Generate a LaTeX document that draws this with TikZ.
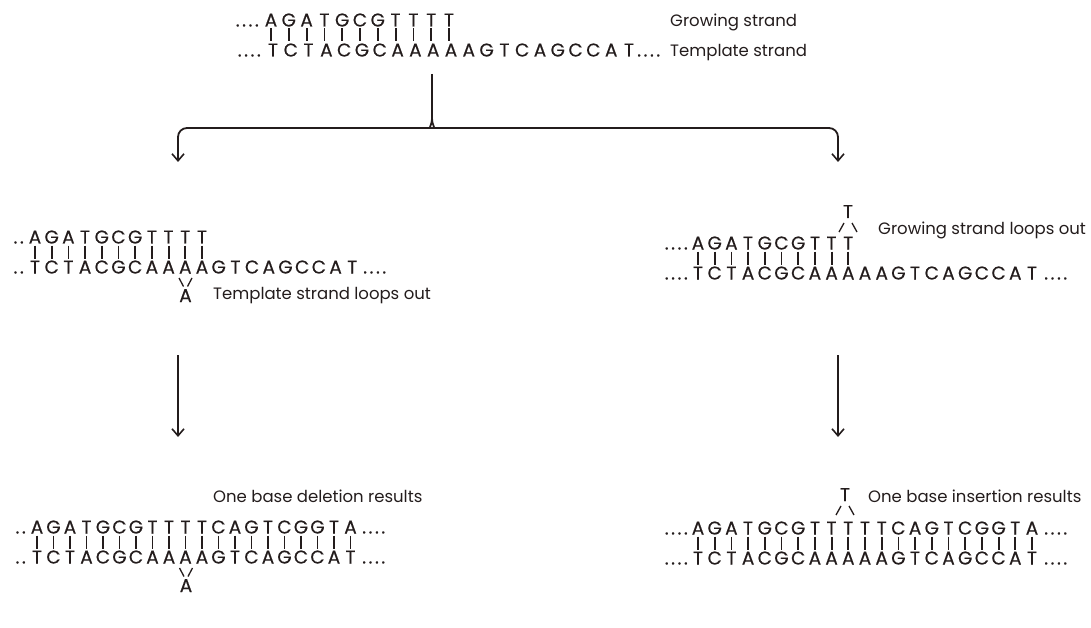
\documentclass[tikz,border=0pt]{standalone}
\usepackage{fontspec}
\setmainfont{Poppins}
\newfontfamily\seqfont{Poppins}[FakeBold=0.35]
\usetikzlibrary{arrows.meta}
\definecolor{ink}{HTML}{231C1C}
\tikzset{
  base/.style={font=\seqfont\fontsize{18.5}{18.5}\selectfont, text=ink, inner sep=0pt, anchor=base},
  dotsL/.style={base, anchor=base east},
  dotsR/.style={base, anchor=base west},
  lbl/.style={font=\fontsize{16.5}{16.5}\selectfont, text=ink, inner sep=0pt, anchor=base west},
  pairbar/.style={draw=ink, line width=1.8pt},
  stroke/.style={draw=ink, line width=1.8pt},
  conn/.style={draw=ink, line width=1.8pt, -{Straight Barb[length=7pt,width=12pt,line width=1.6pt]}},
  loopline/.style={draw=ink, line width=1.3pt},
}
\newcommand\seqline[5]{% name, x0, baseline, pitch, letters
  \foreach \c [count=\i from 0] in {#5}{\node[base] (#1-\i) at ({#2+\i*#4},#3) {\c};}}
\newcommand\barline[4]{% x0, ycenter, pitch, n
  \foreach \i in {1,...,#4}{\draw[pairbar] ({#1+(\i-1)*#3},{#2-6.5}) -- ({#1+(\i-1)*#3},{#2+6.5});}}
\newcommand\fourdots{.\hspace{2.5pt}.\hspace{2.5pt}.\hspace{2.5pt}.}
\newcommand\twodots{.\hspace{2.5pt}.}
\begin{document}
\begin{tikzpicture}[x=1pt,y=-1pt]
\useasboundingbox (0,0) rectangle (1091,628);
% ---------- top ----------
\node[dotsL] (t1d) at (259,26.5) {\fourdots};
\seqline{t1}{271}{26.5}{17.8}{A,G,A,T,G,C,G,T,T,T,T}
\barline{271}{35}{17.8}{11}
\node[dotsL] (t3d) at (261,56.5) {\fourdots};
\seqline{t3}{273}{56.5}{17.8}{T,C,T,A,C,G,C,A,A,A,A,A,G,T,C,A,G,C,C,A,T}
\node[dotsR] (t3e) at (637,56.5) {\fourdots};
\node[lbl] (growlbl) at (670,27) {Growing strand};
\node[lbl] (tmpllbl) at (670,57) {Template strand};
% ---------- bracket ----------
\coordinate (stemtop) at (432,74);
\coordinate (stemjoin) at (432,118);
\coordinate (ltip) at (178,162);
\coordinate (rtip) at (838,162);
\draw[stroke] (stemtop) -- (stemjoin);
\draw[conn, rounded corners=9pt] (stemjoin) .. controls (432,126) and (428,128) .. (422,128) -- (178,128) -- (ltip);
\draw[conn, rounded corners=9pt] (stemjoin) .. controls (432,126) and (436,128) .. (442,128) -- (838,128) -- (rtip);
% ---------- left middle ----------
\node[dotsL] (l1d) at (24,243.5) {\twodots};
\seqline{l1}{35}{243.5}{16.7}{A,G,A,T,G,C,G,T,T,T,T}
\barline{35}{252}{16.7}{11}
\node[dotsL] (l3d) at (24,273.5) {\twodots};
\seqline{l3}{35}{273.5}{16.7}{T,C,T,A,C,G,C,A,A,A,A,G,T,C,A,G,C,C,A,T}
\node[dotsR] (l3e) at (363,273.5) {\fourdots};
\draw[loopline] (179,278) -- (183.5,286.5);
\draw[loopline] (192,278) -- (187.5,286.5);
\node[base] (lloop) at (185.5,302) {A};
\node[lbl] (tlooplbl) at (213,299) {Template strand loops out};
% ---------- right middle ----------
\node[base] (rloop) at (848,218) {T};
\draw[loopline] (839,232) -- (844,223);
\draw[loopline] (852,223) -- (857,232);
\node[lbl] (glooplbl) at (878,234) {Growing strand loops out};
\node[dotsL] (r1d) at (688,249.5) {\fourdots};
\seqline{r1}{698}{249.5}{16.7}{A,G,A,T,G,C,G,T,T,T}
\barline{698}{258}{16.7}{10}
\node[dotsL] (r3d) at (688,279.5) {\fourdots};
\seqline{r3}{698}{279.5}{16.7}{T,C,T,A,C,G,C,A,A,A,A,A,G,T,C,A,G,C,C,A,T}
\node[dotsR] (r3e) at (1044,279.5) {\fourdots};
% ---------- vertical arrows ----------
\coordinate (lvtop) at (178,355);
\coordinate (lvtip) at (178,437);
\coordinate (rvtop) at (838,355);
\coordinate (rvtip) at (838,437);
\draw[conn] (lvtop) -- (lvtip);
\draw[conn] (rvtop) -- (rvtip);
% ---------- lower left ----------
\node[lbl] (dellbl) at (213,502) {One base deletion results};
\node[dotsL] (d1d) at (26,533.5) {\twodots};
\seqline{d1}{37}{533.5}{16.5}{A,G,A,T,G,C,G,T,T,T,T,C,A,G,T,C,G,G,T,A}
\node[dotsR] (d1e) at (362,533.5) {\fourdots};
\barline{37}{542}{16.5}{20}
\node[dotsL] (d3d) at (26,563.5) {\twodots};
\seqline{d3}{37}{563.5}{16.5}{T,C,T,A,C,G,C,A,A,A,A,G,T,C,A,G,C,C,A,T}
\node[dotsR] (d3e) at (362,563.5) {\fourdots};
\draw[loopline] (179.5,568) -- (184,576.5);
\draw[loopline] (192.5,568) -- (188,576.5);
\node[base] (dloop) at (186,592) {A};
% ---------- lower right ----------
\node[base] (iloop) at (845,501) {T};
\draw[loopline] (836,515) -- (841,506);
\draw[loopline] (849,506) -- (854,515);
\node[lbl] (inslbl) at (868,502) {One base insertion results};
\node[dotsL] (i1d) at (688,534.5) {\fourdots};
\seqline{i1}{698}{534.5}{16.7}{A,G,A,T,G,C,G,T,T,T,T,T,C,A,G,T,C,G,G,T,A}
\node[dotsR] (i1e) at (1044,534.5) {\fourdots};
\barline{698}{543}{16.7}{21}
\node[dotsL] (i3d) at (688,564.5) {\fourdots};
\seqline{i3}{698}{564.5}{16.7}{T,C,T,A,C,G,C,A,A,A,A,A,G,T,C,A,G,C,C,A,T}
\node[dotsR] (i3e) at (1044,564.5) {\fourdots};
\end{tikzpicture}
\end{document}
